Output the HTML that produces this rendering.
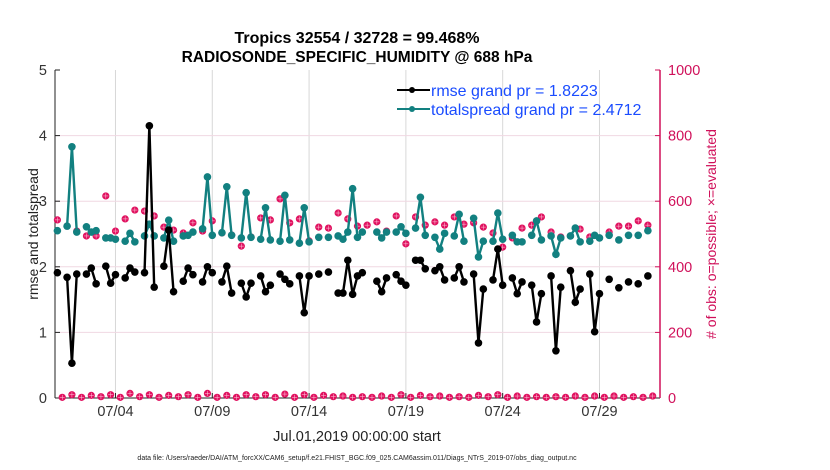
<!DOCTYPE html>
<html><head><meta charset="utf-8"><style>
html,body{margin:0;padding:0;background:#fff;}
svg{display:block;font-family:"Liberation Sans",Arial,sans-serif;}
</style></head><body>
<svg id="chart" width="830" height="470" viewBox="0 0 830 470">
<text x="357" y="43" text-anchor="middle" font-size="16" font-weight="bold">Tropics 32554 / 32728 = 99.468%</text>
<text x="357" y="62" text-anchor="middle" font-size="15.5" font-weight="bold">RADIOSONDE_SPECIFIC_HUMIDITY @ 688 hPa</text>
<g id="grid"></g>
<g id="axes"></g>
<g id="marks"></g>
<text transform="translate(38,234) rotate(-90)" text-anchor="middle" font-size="14" fill="#222">rmse and totalspread</text>
<text transform="translate(716,234) rotate(-90)" text-anchor="middle" font-size="14" fill="#d0105a"># of obs: o=possible; ×=evaluated</text>
<text x="357" y="441" text-anchor="middle" font-size="14.5" fill="#222">Jul.01,2019 00:00:00 start</text>
<text x="357" y="460" text-anchor="middle" font-size="7" fill="#222">data file: /Users/raeder/DAI/ATM_forcXX/CAM6_setup/f.e21.FHIST_BGC.f09_025.CAM6assim.011/Diags_NTrS_2019-07/obs_diag_output.nc</text>
<g>
<line x1="397" y1="90" x2="430" y2="90" stroke="#000" stroke-width="2"/>
<circle cx="412" cy="90" r="3" fill="#000"/>
<text x="431" y="96" font-size="16" fill="#1a4cff">rmse grand pr = 1.8223</text>
<line x1="397" y1="109" x2="430" y2="109" stroke="#128080" stroke-width="2"/>
<circle cx="412" cy="109" r="3" fill="#128080"/>
<text x="431" y="115" font-size="16" fill="#1a4cff">totalspread grand pr = 2.4712</text>
</g>
</svg>
<script>
const N = 125;
const rmsePts = {0:1.91,2:1.84,3:0.53,4:1.89,6:1.89,7:1.98,8:1.74,10:2.01,11:1.75,12:1.88,14:1.83,15:1.98,16:1.92,18:1.91,19:4.15,20:1.69,22:2.01,23:2.56,24:1.62,26:1.78,27:1.98,28:1.88,30:1.77,31:2.0,32:1.91,34:1.77,35:2.01,36:1.60,38:1.75,39:1.54,40:1.75,42:1.86,43:1.62,44:1.72,46:1.89,47:1.81,48:1.74,50:1.86,51:1.30,52:1.86,54:1.89,56:1.92,58:1.60,59:1.60,60:2.10,61:1.58,62:1.86,63:1.91,66:1.78,67:1.62,68:1.83,70:1.88,71:1.78,72:1.72,74:2.10,75:2.10,76:1.97,78:1.94,79:2.0,80:1.80,82:1.83,83:2.0,84:1.77,86:1.89,87:0.84,88:1.66,90:1.80,91:2.27,92:1.72,94:1.83,95:1.59,96:1.77,98:1.72,99:1.16,100:1.59,102:1.86,103:0.72,104:1.69,106:1.94,107:1.46,108:1.66,110:1.89,111:1.01,112:1.59,114:1.81,116:1.68,118:1.77,120:1.74,122:1.86};
const spreadPts = {0:2.55,2:2.62,3:3.83,4:2.53,6:2.61,7:2.53,8:2.55,10:2.44,11:2.44,12:2.42,14:2.39,15:2.51,16:2.38,18:2.47,19:2.65,20:2.47,22:2.44,23:2.71,24:2.39,26:2.47,27:2.48,28:2.53,30:2.58,31:3.37,32:2.48,34:2.52,35:3.22,36:2.48,38:2.44,39:3.13,40:2.45,42:2.42,43:2.90,44:2.41,46:2.39,47:3.09,48:2.41,50:2.36,51:2.90,52:2.38,54:2.45,56:2.45,58:2.47,59:2.42,60:2.53,61:3.19,62:2.45,63:2.53,66:2.53,67:2.44,68:2.53,70:2.53,71:2.61,72:2.51,74:2.59,75:3.06,76:2.48,78:2.45,79:2.27,80:2.51,82:2.47,83:2.80,84:2.39,86:2.74,87:2.15,88:2.39,90:2.39,91:2.82,92:2.42,94:2.48,95:2.38,96:2.38,98:2.48,99:2.70,100:2.41,102:2.47,103:2.19,104:2.44,106:2.47,107:2.59,108:2.38,110:2.39,111:2.48,112:2.44,114:2.48,116:2.41,118:2.48,120:2.48,122:2.55};
const obsPts = {0:543,2:524,4:509,6:494,8:494,10:616,12:509,14:546,16:573,18:570,20:555,22:521,24:512,26:503,28:534,30:509,32:540,34:503,36:497,38:463,40:491,42:549,44:543,46:607,48:534,50:546,52:479,54:521,56:518,58:564,60:546,62:524,64:527,66:537,68:509,70:555,72:470,74:552,76:527,78:537,80:527,82:552,84:530,86:534,88:521,90:503,92:460,94:488,96:518,98:527,100:552,102:506,104:491,106:494,108:515,110:491,112:488,114:506,116:524,118:524,120:540,122:527};
const obsLow = [2,10,2,8,4,10,2,14,4,10,2,8,4,10,2,14,2,8,2,10,4,10,2,12,2,10,2,8,4,6,2,4,2,6,2,10,2,8,4,6,2,4,2,8,4,10,2,6,2,4,2,4,2,6,2,6,2,6,2,4,2,6,2];
const xTickLabels = ["07/04","07/09","07/14","07/19","07/24","07/29"];
const xTickIdx = [12,32,52,72,92,112];
const yLeftTicks = [0,1,2,3,4,5];
const yRightTicks = [0,200,400,600,800,1000];

const NS="http://www.w3.org/2000/svg";
const X0=57.4, DX=4.84, YB=398, YT=70;
const xs=i=>X0+i*DX;
const yL=v=>YB-(v/5)*(YB-YT);
const yR=v=>YB-(v/1000)*(YB-YT);
function mk(tag,attrs,parent){const e=document.createElementNS(NS,tag);for(const k in attrs)e.setAttribute(k,attrs[k]);parent.appendChild(e);return e;}
const grid=document.getElementById('grid'), axes=document.getElementById('axes'), marks=document.getElementById('marks');

xTickIdx.forEach((t,k)=>{
  const x=xs(t);
  const g=mk('line',{x1:x,y1:YT,x2:x,y2:YB,stroke:'#d8d8d8','stroke-width':1},grid);
  
  
  mk('line',{x1:x,y1:YB,x2:x,y2:YB-5,stroke:'#222'},axes);
  const tx=mk('text',{x:x,y:416,'text-anchor':'middle','font-size':14.5,fill:'#333'},axes);
  tx.textContent=xTickLabels[k];
  
  
});
yRightTicks.forEach(v=>{
  const y=yR(v);
  if(v>0&&v<1000){const g=mk('line',{x1:55,y1:y,x2:660,y2:y,stroke:'#f0d8e2','stroke-width':1},grid);
  
  }
  mk('line',{x1:660,y1:y,x2:655,y2:y,stroke:'#d0105a'},axes);
  const t=mk('text',{x:668,y:y+5,'font-size':14.5,fill:'#d0105a'},axes);
  t.textContent=v;
  
  
});
yLeftTicks.forEach(v=>{
  const y=yL(v);
  mk('line',{x1:55,y1:y,x2:60,y2:y,stroke:'#222'},axes);
  const t=mk('text',{x:47,y:y+5,'text-anchor':'end','font-size':14.5,fill:'#333'},axes);
  t.textContent=v;
  
  
});
mk('line',{x1:55,y1:YT,x2:55,y2:YB,stroke:'#222'},axes);
mk('line',{x1:55,y1:YB,x2:660,y2:YB,stroke:'#222'},axes);
mk('line',{x1:660,y1:YT,x2:660,y2:YB,stroke:'#d0105a','stroke-width':1.5},axes);

function drawLine(pts,color,name){
  let seg=[];const segs=[];
  for(let i=0;i<N;i++){ if(pts[i]!==undefined){seg.push([xs(i),yL(pts[i])]);} else {if(seg.length)segs.push(seg);seg=[];} }
  if(seg.length)segs.push(seg);
  segs.forEach(s=>{ if(s.length>1){const p=mk('polyline',{points:s.map(a=>a.join(',')).join(' '),fill:'none',stroke:color,'stroke-width':2.4},marks);
    
    }});
  for(let i=0;i<N;i++){ if(pts[i]!==undefined){const c=mk('circle',{cx:xs(i),cy:yL(pts[i]),r:3.8,fill:color},marks);
    
    }}
}
function obsMark(x,y){
  const g=mk('g',{},marks);
  
  
  mk('circle',{cx:x,cy:y,r:3.6,fill:'#e0115f'},g);
  mk('path',{d:`M${x-2.5},${y}H${x+2.5}M${x},${y-2.5}V${y+2.5}`,stroke:'#ffd0e0','stroke-width':0.5},g);
}
let lo=0;
for(let i=0;i<N;i++){
  if(obsPts[i]!==undefined) obsMark(xs(i),yR(obsPts[i]));
  else if(i%2===1){obsMark(xs(i),yR(obsLow[lo%obsLow.length]));lo++;}
}
drawLine(spreadPts,'#128080','totalspread');
drawLine(rmsePts,'#000000','rmse');
</script>
</body></html>
